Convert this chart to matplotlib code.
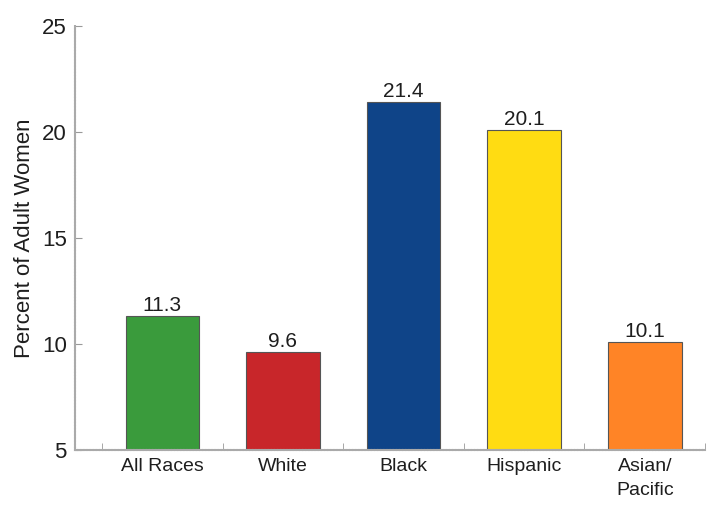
import numpy as np
import matplotlib.pyplot as plt

categories = ['All Races', 'White', 'Black', 'Hispanic', 'Asian/\nPacific']
values = [11.3, 9.6, 21.4, 20.1, 10.1]
colors = ['#3a9b3c', '#c8262a', '#0f4488', '#ffdc12', '#ff8426']
yticks = [5, 10, 15, 20, 25]

plt.rcParams['font.family'] = ['Liberation Sans', 'DejaVu Sans']

fig = plt.figure(figsize=(7.1, 5.08), dpi=100)
ax = fig.add_axes([0.1056, 0.1142, 0.8874, 0.8346])

x = np.arange(len(categories))
ax.bar(x, np.array(values) - 5, bottom=5, width=0.61, color=colors,
       edgecolor='#555555', linewidth=0.8, zorder=2)
for xi, v in zip(x, values):
    ax.text(xi, v + 0.05, f'{v:.1f}', ha='center', va='bottom', fontsize=15, color='#1e1e1e')

ax.set_xlim(-0.725, 4.47)
ax.set_ylim(5, 25)
ax.set_yticks(yticks)
ax.set_yticklabels([str(t) for t in yticks], fontsize=16, color='#1e1e1e')
ax.set_xticks(x)
ax.set_xticklabels(categories, fontsize=14, color='#1e1e1e', linespacing=1.5, va='top')
ax.set_xticks(np.arange(-0.5, 5, 1), minor=True)
ax.tick_params(axis='x', which='major', length=0, pad=6)
ax.tick_params(axis='x', which='minor', direction='in', length=5, color='#999999')
ax.tick_params(axis='y', direction='in', length=5, color='#999999', pad=6)
ax.set_ylabel('Percent of Adult Women', fontsize=16, color='#1e1e1e', labelpad=5)

for s in ['top', 'right']:
    ax.spines[s].set_visible(False)
for s in ['left', 'bottom']:
    ax.spines[s].set_color('#aaaaaa')
    ax.spines[s].set_linewidth(1.5)
    ax.spines[s].set_linestyle((0, (1, 0.5)))

fig.savefig('out.png', dpi=100)
